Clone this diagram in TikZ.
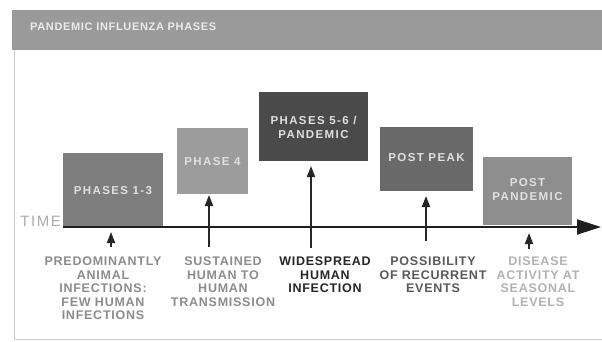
\documentclass[tikz,border=0pt]{standalone}
\usepackage{fontspec}
\setmainfont{Liberation Sans}
\newfontfamily\spc[LetterSpace=12]{Liberation Sans}
\newfontfamily\spl[LetterSpace=6]{Liberation Sans}
\newfontfamily\spt[LetterSpace=10]{Liberation Sans}
\usetikzlibrary{arrows.meta}
\definecolor{hdr}{HTML}{9A9A9A}
\definecolor{c13}{HTML}{7E7E7E}
\definecolor{c4}{HTML}{9C9C9C}
\definecolor{c56}{HTML}{4A4A4A}
\definecolor{cpp}{HTML}{6A6A6A}
\definecolor{cpan}{HTML}{8E8E8E}
\begin{document}
\begin{tikzpicture}[x=1pt,y=-1pt,
  phasebox/.style={draw=none,inner sep=0pt,text=white!88!black,align=center,
    font=\fontsize{11.5}{14}\selectfont\bfseries\spc},
  lbl/.style={anchor=north,align=center,inner sep=0pt,
    font=\fontsize{12.5}{13.5}\selectfont\bfseries\spl},
  uparrow/.style={draw=black!85,line width=1.8pt,-{Triangle[length=11pt,width=8pt]}},
]
\useasboundingbox (0,0) rectangle (602,341);
\fill[white] (0,0) rectangle (602,341);
% panel
\draw[black!20,line width=0.8pt] (14,50) -- (14,339) -- (602,339);
\node[fill=hdr,minimum width=590,minimum height=40,inner sep=0pt,anchor=north west] (hdr) at (12,10) {};
\node[anchor=west,text=white!92!black,inner sep=0pt,font=\fontsize{11}{12}\selectfont\bfseries\spl] (title) at (30,27) {PANDEMIC INFLUENZA PHASES};
% boxes
\path[phasebox,fill=c13] (63,153) rectangle (163,227);
\node[phasebox] (p13) at (113,191) {PHASES 1-3};
\path[phasebox,fill=c4] (177,128) rectangle (248,194);
\node[phasebox] (p4) at (212.5,162) {PHASE 4};
\path[phasebox,fill=c56] (259,92) rectangle (368,161);
\node[phasebox] (p56) at (313.5,127) {PHASES 5-6 /\\PANDEMIC};
\path[phasebox,fill=cpp] (380,127) rectangle (473,191);
\node[phasebox] (pp) at (426.5,158) {POST PEAK};
\path[phasebox,fill=cpan] (483,157) rectangle (572,225);
\node[phasebox] (ppan) at (527.5,190) {POST\\PANDEMIC};
% time axis
\node[anchor=east,inner sep=0pt,text=black!33,font=\fontsize{15}{15}\selectfont\spt] (time) at (61,221) {TIME};
\coordinate (ax0) at (63,227);
\coordinate (ax1) at (601,227);
\draw[draw=black!88,line width=1.8pt,-{Triangle[length=24pt,width=15pt]}] (ax0) -- (ax1);
% arrows
\coordinate (a1s) at (111,247); \coordinate (a1e) at (111,232);
\coordinate (a2s) at (209,247); \coordinate (a2e) at (209,195);
\coordinate (a3s) at (311,248); \coordinate (a3e) at (311,166);
\coordinate (a4s) at (426,241); \coordinate (a4e) at (426,196);
\coordinate (a5s) at (529,249); \coordinate (a5e) at (529,233);
\draw[uparrow] (a1s) -- (a1e);
\draw[uparrow] (a2s) -- (a2e);
\draw[uparrow] (a3s) -- (a3e);
\draw[uparrow] (a4s) -- (a4e);
\draw[uparrow] (a5s) -- (a5e);
% labels
\node[lbl,text=black!45] (l1) at (103,257) {PREDOMINANTLY\\ANIMAL\\INFECTIONS:\\FEW HUMAN\\INFECTIONS};
\node[lbl,text=black!45] (l2) at (223,257) {SUSTAINED\\HUMAN TO\\HUMAN\\TRANSMISSION};
\node[lbl,text=black!85] (l3) at (325,257) {WIDESPREAD\\HUMAN\\INFECTION};
\node[lbl,text=black!65] (l4) at (433,257) {POSSIBILITY\\OF RECURRENT\\EVENTS};
\node[lbl,text=black!30] (l5) at (538,257) {DISEASE\\ACTIVITY AT\\SEASONAL\\LEVELS};
\end{tikzpicture}
\end{document}
